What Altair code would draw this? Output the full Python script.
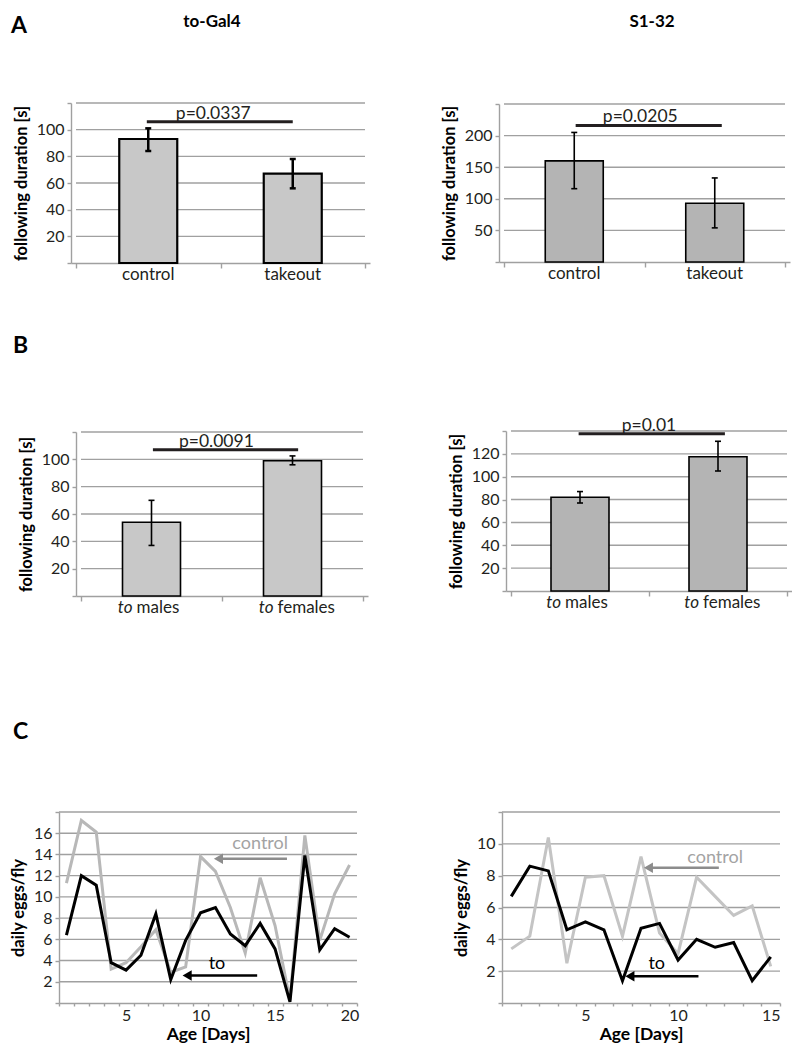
import altair as alt
import pandas as pd

FONT = "Lato"
GRID = "#a0a0a0"
INK = "#231f20"
W, H = 784, 1030

# ---------------- data ----------------
panel_letters = ["A", "B", "C"]
strain_titles = ["to-Gal4", "S1-32"]

A_categories = ["control", "takeout"]
A_left_mean = [93, 67]
A_left_low = [84, 56]
A_left_high = [101, 78]
A_left_p = "p=0.0337"
A_left_p_level = 106
A_left_p_span = [0.49, 1.5]
A_left_p_text_x = 0.95

A_right_mean = [160, 93]
A_right_low = [116, 54]
A_right_high = [205, 133]
A_right_p = "p=0.0205"
A_right_p_level = 216
A_right_p_span = [0.51, 1.55]
A_right_p_text_x = 0.97

B_prefix = ["to", "to"]
B_categories = ["males", "females"]
B_left_mean = [54, 99]
B_left_low = [37, 96]
B_left_high = [70, 102.5]
B_left_p = "p=0.0091"
B_left_p_level = 107
B_left_p_span = [0.51, 1.54]
B_left_p_text_x = 0.96

B_right_mean = [82, 117.5]
B_right_low = [77, 105]
B_right_high = [87, 131]
B_right_p = "p=0.01"
B_right_p_level = 137.5
B_right_p_span = [0.49, 1.55]
B_right_p_text_x = 1.0

C_left_days = list(range(1, 21))
C_left_control = [11.3, 17.2, 16.1, 3.2, 3.8, 5.3, 6.9, 2.9, 3.4, 13.8,
                  12.4, 9.0, 4.7, 11.8, 7.3, 0.3, 15.8, 5.9, 10.3, 13.0]
C_left_to = [6.4, 12.0, 11.1, 3.8, 3.1, 4.5, 8.4, 2.2, 5.9, 8.5,
             9.0, 6.5, 5.4, 7.5, 5.1, 0.1, 13.9, 5.0, 7.0, 6.2]

C_right_days = list(range(1, 16))
C_right_control = [3.4, 4.2, 10.4, 2.5, 7.9, 8.0, 4.2, 9.2, 4.4, 3.1,
                   7.9, 6.7, 5.5, 6.1, 2.3]
C_right_to = [6.7, 8.6, 8.3, 4.6, 5.1, 4.6, 1.4, 4.7, 5.0, 2.7,
              4.0, 3.5, 3.8, 1.4, 2.9]

note_labels = ["control", "to"]
C_left_note_x = [14.0, 11.1]
C_left_note_y = [15.0, 3.7]
C_left_arrow_tip = [11.2, 9.1]
C_left_arrow_tail = [15.8, 13.8]
C_left_arrow_y = [13.6, 2.6]

C_right_note_x = [12.0, 8.85]
C_right_note_y = [9.1, 2.42]
C_right_arrow_tip = [8.4, 7.4]
C_right_arrow_tail = [12.2, 11.1]
C_right_arrow_y = [8.5, 1.68]


# ---------------- helpers ----------------
def y_axis(values, y_max, title, x_left):
    return alt.Axis(
        orient="left",
        values=values,
        labelExpr=f"datum.value == 0 || datum.value == {y_max} ? '' : datum.label",
        grid=False, title=title, offset=-x_left,
        tickSize=4, tickColor=GRID, tickWidth=1.4,
        domainColor=GRID, domainWidth=1.4,
        labelFontSize=16, labelColor=INK, labelPadding=3,
        titleFontSize=16.5, titleFontWeight="bold", titleColor="black",
        titlePadding=7,
    )


def bar_panel(prefix, words, mean, low, high, p_label, p_level, p_span, p_text_x,
              y_max, y_step, x_range, y_range, fill, bar_stroke, err_stroke):
    pos = [0.5, 1.5]
    xs = alt.Scale(domain=[0, 2], range=x_range, nice=False, zero=False)
    ys = alt.Scale(domain=[0, y_max], range=y_range, nice=False)
    grid_df = pd.DataFrame({"v": list(range(y_step, y_max + 1, y_step))})
    grid_df["x0"] = 0
    grid_df["x1"] = 2
    bars_df = pd.DataFrame({"pos": pos, "mean": mean, "low": low, "high": high,
                            "prefix": prefix, "word": words, "base": [0, 0]})
    p_df = pd.DataFrame({"x0": [p_span[0]], "x1": [p_span[1]], "y": [p_level],
                         "tx": [p_text_x], "label": [p_label]})

    grid = alt.Chart(grid_df).mark_rule(color=GRID, strokeWidth=1.4).encode(
        x=alt.X("x0:Q", scale=xs, axis=alt.Axis(
            orient="bottom",
            values=[0, 1, 2], labels=False, title=None, grid=False,
            tickSize=5, tickColor=GRID, tickWidth=1.4,
            domainColor=GRID, domainWidth=1.4, offset=y_range[0] - H)),
        x2="x1:Q",
        y=alt.Y("v:Q", scale=ys, axis=y_axis(list(range(0, y_max + 1, y_step)),
                                               y_max, "following duration [s]", x_range[0])),
    )
    X = alt.X("pos:Q", scale=xs, axis=None)
    bars = alt.Chart(bars_df).mark_bar(size=58, orient="vertical", fill=fill,
                                       stroke="black", strokeWidth=bar_stroke).encode(
        x=X, y=alt.Y("mean:Q", scale=ys, axis=None))
    err = alt.Chart(bars_df).mark_rule(color="black", strokeWidth=err_stroke).encode(
        x=X, y=alt.Y("low:Q", scale=ys, axis=None), y2="high:Q")
    cap_lo = alt.Chart(bars_df).mark_tick(orient="horizontal", size=6, thickness=err_stroke,
                                          color="black", opacity=1).encode(
        x=X, y=alt.Y("low:Q", scale=ys, axis=None))
    cap_hi = alt.Chart(bars_df).mark_tick(orient="horizontal", size=6, thickness=err_stroke,
                                          color="black", opacity=1).encode(
        x=X, y=alt.Y("high:Q", scale=ys, axis=None))
    pline = alt.Chart(p_df).mark_rule(color=INK, strokeWidth=3).encode(
        x=alt.X("x0:Q", scale=xs, axis=None), x2="x1:Q",
        y=alt.Y("y:Q", scale=ys, axis=None))
    ptext = alt.Chart(p_df).mark_text(fontSize=17.5, baseline="alphabetic", dy=-3,
                                      color=INK, align="center").encode(
        x=alt.X("tx:Q", scale=xs, axis=None),
        y=alt.Y("y:Q", scale=ys, axis=None), text="label:N")
    Yb = alt.Y("base:Q", scale=ys, axis=None)
    layers = [grid, bars, err, cap_lo, cap_hi, pline, ptext]
    if any(prefix):
        layers.append(alt.Chart(bars_df).mark_text(
            fontSize=17, fontStyle="italic", baseline="top", dy=4, align="right", dx=-19,
            color=INK).encode(x=X, y=Yb, text="prefix:N"))
        layers.append(alt.Chart(bars_df).mark_text(
            fontSize=17, baseline="top", dy=4, align="left", dx=-15,
            color=INK).encode(x=X, y=Yb, text="word:N"))
    else:
        layers.append(alt.Chart(bars_df).mark_text(
            fontSize=17, baseline="top", dy=4, align="center",
            color=INK).encode(x=X, y=Yb, text="word:N"))
    return alt.layer(*layers).resolve_axis(x="independent", y="independent")


def line_panel(days, control, to, y_max, x_range, y_range,
               note_x, note_y, arrow_tip, arrow_tail, arrow_y, ctrl_color):
    n = len(days)
    xs = alt.Scale(domain=[0.5, n + 0.5], range=x_range, nice=False, zero=False)
    ys = alt.Scale(domain=[0, y_max], range=y_range, nice=False)
    half = (x_range[1] - x_range[0]) / n / 2
    grid_df = pd.DataFrame({"v": list(range(2, y_max + 1, 2))})
    grid_df["x0"] = 0.5
    grid_df["x1"] = n + 0.5
    df = pd.DataFrame({"day": days, "control": control, "to": to})
    notes = pd.DataFrame({"label": note_labels, "tx": note_x, "ty": note_y,
                          "tip": arrow_tip, "tail": arrow_tail, "ay": arrow_y})

    grid = alt.Chart(grid_df).mark_rule(color=GRID, strokeWidth=1.4).encode(
        x=alt.X("x0:Q", scale=xs, axis=alt.Axis(
            orient="bottom",
            values=[0.5 + i for i in range(n + 1)],
            labelExpr="(datum.value + 0.5) % 5 === 0 ? format(datum.value + 0.5, 'd') : ''",
            labelOffset=half, labelPadding=1, labelFontSize=16, labelColor=INK,
            grid=False, title="Age [Days]", titleFontSize=17.5, titleFontWeight="bold",
            titleColor="black", titlePadding=2,
            tickSize=3, tickColor=GRID, tickWidth=1.4,
            domainColor=GRID, domainWidth=1.4, offset=y_range[0] - H)),
        x2="x1:Q",
        y=alt.Y("v:Q", scale=ys, axis=y_axis(list(range(0, y_max + 1, 2)), y_max,
                                               "daily eggs/fly", x_range[0])),
    )
    X = alt.X("day:Q", scale=xs, axis=None)
    ctrl = alt.Chart(df).mark_line(color=ctrl_color, strokeWidth=3).encode(
        x=X, y=alt.Y("control:Q", scale=ys, axis=None))
    tol = alt.Chart(df).mark_line(color="black", strokeWidth=3).encode(
        x=X, y=alt.Y("to:Q", scale=ys, axis=None))

    layers = [grid, ctrl, tol]
    styles = {"control": ("#a3a3a3", "#8c8c8c"), "to": ("black", "black")}
    for lab in note_labels:
        text_col, arrow_col = styles[lab]
        base = alt.Chart(notes).transform_filter(alt.datum.label == lab)
        layers.append(base.mark_rule(color=arrow_col, strokeWidth=2.5).encode(
            x=alt.X("tip:Q", scale=xs, axis=None), x2="tail:Q",
            y=alt.Y("ay:Q", scale=ys, axis=None)))
        layers.append(base.mark_point(shape="triangle-left", filled=True, size=110,
                                      color=arrow_col, opacity=1).encode(
            x=alt.X("tip:Q", scale=xs, axis=None),
            y=alt.Y("ay:Q", scale=ys, axis=None)))
        layers.append(base.mark_text(fontSize=18, baseline="middle", align="center",
                                     color=text_col).encode(
            x=alt.X("tx:Q", scale=xs, axis=None),
            y=alt.Y("ty:Q", scale=ys, axis=None), text="label:N"))
    return alt.layer(*layers).resolve_axis(x="independent", y="independent")


def header(text, x, y, size, align):
    return alt.Chart(pd.DataFrame({"t": [text]})).mark_text(
        fontSize=size, fontWeight="bold", align=align, baseline="alphabetic",
        color="black").encode(text="t:N", x=alt.value(x), y=alt.value(y))


# ---------------- panels ----------------
pA1 = bar_panel(["", ""], A_categories, A_left_mean, A_left_low, A_left_high,
                A_left_p, A_left_p_level, A_left_p_span, A_left_p_text_x,
                120, 20, [63, 362], [255, 95], "#c8c8c8", 2.2, 2.5)
pA2 = bar_panel(["", ""], A_categories, A_right_mean, A_right_low, A_right_high,
                A_right_p, A_right_p_level, A_right_p_span, A_right_p_text_x,
                250, 50, [491, 782], [254, 96], "#b4b4b4", 1.6, 1.6)
pB1 = bar_panel(B_prefix, B_categories, B_left_mean, B_left_low, B_left_high,
                B_left_p, B_left_p_level, B_left_p_span, B_left_p_text_x,
                120, 20, [68, 360], [588, 424], "#c8c8c8", 1.6, 1.6)
pB2 = bar_panel(B_prefix, B_categories, B_right_mean, B_right_low, B_right_high,
                B_right_p, B_right_p_level, B_right_p_span, B_right_p_text_x,
                140, 20, [498, 784], [583, 423], "#b4b4b4", 1.6, 1.6)
pC1 = line_panel(C_left_days, C_left_control, C_left_to, 18, [51, 349], [995, 804],
                 C_left_note_x, C_left_note_y, C_left_arrow_tip, C_left_arrow_tail,
                 C_left_arrow_y, "#b8b8b8")
pC2 = line_panel(C_right_days, C_right_control, C_right_to, 12, [494, 772], [995, 804],
                 C_right_note_x, C_right_note_y, C_right_arrow_tip, C_right_arrow_tail,
                 C_right_arrow_y, "#c4c4c4")

heads = [
    header(panel_letters[0], 3, 25, 23, "left"),
    header(panel_letters[1], 5, 345, 23, "left"),
    header(panel_letters[2], 5, 731, 23, "left"),
    header(strain_titles[0], 204, 19, 17, "center"),
    header(strain_titles[1], 644, 19, 17, "center"),
]

chart = alt.layer(*heads, pA1, pA2, pB1, pB2, pC1, pC2).resolve_scale(
    x="independent", y="independent").resolve_axis(
    x="independent", y="independent").properties(
    width=W, height=H, padding=0, background="white").configure(
    font=FONT).configure_view(stroke=None).configure_axis(
    labelFont=FONT, titleFont=FONT, labelFlush=False, labelOverlap=False)

chart.save("out.html", embed_options={"renderer": "svg", "actions": False})
